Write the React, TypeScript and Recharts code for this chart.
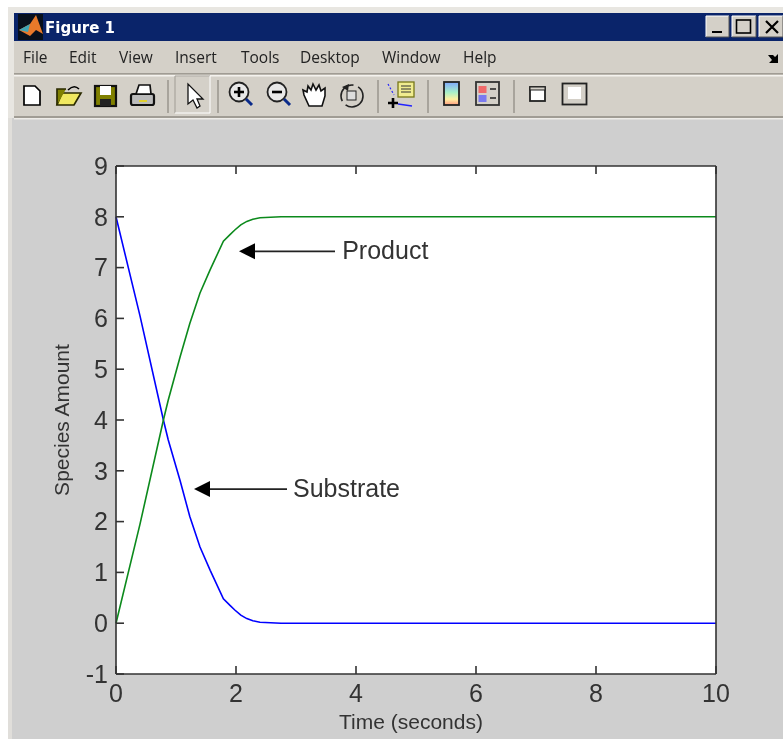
import {
  LineChart,
  Line,
  XAxis,
  YAxis,
  ReferenceLine,
  ReferenceDot,
} from "recharts";

const timeSeconds = [0, 0.4, 0.79, 0.87, 1.07, 1.23, 1.4, 1.57, 1.79, 1.9, 1.98, 2.08, 2.18, 2.28, 2.4, 2.75, 10];
const substrate = [8, 6.05, 4, 3.61, 2.8, 2.1, 1.5, 1.04, 0.48, 0.35, 0.26, 0.16, 0.09, 0.05, 0.02, 0, 0];
const product = [0, 1.95, 4, 4.39, 5.25, 5.9, 6.5, 6.96, 7.52, 7.65, 7.74, 7.84, 7.91, 7.95, 7.98, 8, 8];
const xTicks = [0, 2, 4, 6, 8, 10];
const yTicks = [-1, 0, 1, 2, 3, 4, 5, 6, 7, 8, 9];
const menuItems: [string, number][] = [
  ["File", 23],
  ["Edit", 69],
  ["View", 119],
  ["Insert", 175],
  ["Tools", 241],
  ["Desktop", 300],
  ["Window", 382],
  ["Help", 463],
];

const rows = timeSeconds.map((time, i) => ({
  time,
  substrate: substrate[i],
  product: product[i],
}));

const ink = "#333";
const font = "'Liberation Sans', Arial, sans-serif";
const uiFont = "'Open Sans', 'Noto Sans', sans-serif";

function ArrowHead({ cx, cy }: { cx?: number; cy?: number }) {
  const x = cx ?? 0;
  const y = cy ?? 0;
  return <polygon points={`${x},${y} ${x + 16},${y - 8} ${x + 16},${y + 8}`} fill="#000" />;
}

function Note({ cx, cy, text }: { cx?: number; cy?: number; text: string }) {
  return (
    <text x={cx} y={(cy ?? 0) + 8} fill={ink} fontFamily={font} fontSize={25}>
      {text}
    </text>
  );
}

function WinButton({ x, w, children }: { x: number; w: number; children: React.ReactNode }) {
  return (
    <g>
      <rect x={x} y={16} width={w} height={21} fill="#d4d0c8" />
      <path d={`M${x} 37V16H${x + w}`} stroke="#fff" fill="none" />
      <path d={`M${x} 37H${x + w}V16`} stroke="#555" fill="none" />
      {children}
    </g>
  );
}

function Chrome() {
  return (
    <svg width={783} height={121} style={{ position: "absolute", left: 0, top: 0 }}>
      <defs>
        <linearGradient id="bar" x1="0" y1="0" x2="0" y2="1">
          <stop offset="0" stopColor="#7fa8ff" />
          <stop offset="0.45" stopColor="#a8f0c8" />
          <stop offset="0.75" stopColor="#fff0a0" />
          <stop offset="1" stopColor="#ff9a80" />
        </linearGradient>
      </defs>
      <rect x={8} y={7} width={775} height={111} fill="#e8e6e1" />
      <rect x={14} y={13} width={769} height={105} fill="#d4d0c8" />
      <rect x={14} y={13} width={769} height={28} fill="#0a246a" />
      <rect x={18} y={14} width={25} height={26} fill="#08101c" />
      <path d="M19 30L30 24L36 15L43 34L36 30L30 36Z" fill="#e8792a" />
      <path d="M19 30L30 24L28 32Z" fill="#3fa5b5" />
      <text x={45} y={33} fill="#fff" fontFamily="'DejaVu Sans'" fontWeight="bold" fontSize={15}>Figure 1</text>
      <WinButton x={706} w={23}><rect x={712} y={31} width={10} height={2} fill="#000" /></WinButton>
      <WinButton x={732} w={24}><rect x={736.5} y={20} width={14} height={13} fill="none" stroke="#000" strokeWidth={1.6} /></WinButton>
      <WinButton x={759} w={24}><path d="M766 21L778 33M778 21L766 33" stroke="#000" strokeWidth={2.2} /></WinButton>
      {menuItems.map(([label, x]) => (
        <text key={label} x={x} y={63} fontFamily={uiFont} fontSize={15.5} fill="#222">{label}</text>
      ))}
      <path d="M768 55H773L775 57L778 54V63H769L772 60Z" fill="#000" />
      <rect x={14} y={73} width={769} height={1.5} fill="#a09c94" />
      <rect x={14} y={75} width={769} height={1.5} fill="#f4f2ee" />
      <rect x={14} y={116} width={769} height={2} fill="#a09c94" />
      <rect x={14} y={118} width={769} height={1.5} fill="#eeece8" />
      {[167, 217, 377, 427, 513].map((x) => (
        <rect key={x} x={x} y={80} width={2} height={33} fill="#a8a49c" />
      ))}
      <path d="M24 86H35L40 91V105H24Z" fill="#fff" stroke="#000" strokeWidth={1.7} />
      <path d="M57 105L62 93H81L74 105Z" fill="#f0e860" stroke="#2a2a00" strokeWidth={1.7} />
      <path d="M57 105V89H66" fill="#808000" stroke="#2a2a00" strokeWidth={1.7} />
      <path d="M68 90Q74 84 79 89" fill="none" stroke="#000" strokeWidth={1.5} />
      <rect x={95} y={86} width={21} height={20} fill="#808000" stroke="#111" strokeWidth={2.2} />
      <rect x={100} y={86} width={11} height={9} fill="#fff" />
      <rect x={100} y={99} width={11} height={7} fill="#222" />
      <rect x={131} y={94} width={23} height={11} rx={2} fill="#bbb" stroke="#111" strokeWidth={2.2} />
      <path d="M136 94L139 85H150L151 94Z" fill="#fff" stroke="#111" strokeWidth={1.7} />
      <rect x={139} y={100} width={8} height={2} fill="#e0d030" />
      <path d="M175 113V76H210" stroke="#a09c94" fill="none" />
      <path d="M175 113H210V76" stroke="#fff" fill="none" />
      <path d="M188 84V104L193 100L197 108L200 106L197 99H203Z" fill="#fff" stroke="#111" strokeWidth={1.3} />
      {[239, 277].map((x) => (
        <g key={x}>
          <circle cx={x} cy={92} r={9.5} fill="#e8e8e8" stroke="#222" strokeWidth={1.8} />
          <path d={`M${x + 7} 99L${x + 13} 105`} stroke="#0a2a8a" strokeWidth={3} />
          <path d={`M${x - 5} 92H${x + 5}`} stroke="#000" strokeWidth={2.6} />
        </g>
      ))}
      <path d="M239 87V97" stroke="#000" strokeWidth={2.6} />
      <path d="M309 106L304 95L303 90L307 92L308 86L311 90L313 84L316 90L319 85L321 91L325 88L325 96L322 106Z" fill="#fff" stroke="#111" strokeWidth={1.6} />
      <circle cx={352} cy={96} r={11} fill="none" stroke="#222" strokeWidth={1.6} strokeDasharray="24 5" />
      <rect x={347} y={91} width={9} height={9} fill="#ddd" stroke="#222" />
      <path d="M342 87L349 84L348 91Z" fill="#222" />
      <rect x={398} y={82} width={16} height={15} fill="#f0ec90" stroke="#77771a" strokeWidth={1.3} />
      <path d="M401 86H411M401 89H411M401 92H411" stroke="#333" />
      <path d="M393 98V108M388 103H398" stroke="#000" strokeWidth={2.6} />
      <path d="M388 84L394 95" stroke="#2222ff" strokeWidth={1.2} strokeDasharray="2 2" />
      <path d="M398 104L412 106" stroke="#2222ff" strokeWidth={1.3} />
      <rect x={444} y={82} width={15} height={23} fill="url(#bar)" stroke="#222" strokeWidth={1.8} />
      <rect x={476} y={82} width={23} height={23} fill="#d4d0c8" stroke="#333" strokeWidth={1.8} />
      <rect x={478.5} y={86} width={8} height={7} fill="#f06a6a" />
      <rect x={478.5} y={95} width={8} height={7} fill="#7a7af0" />
      <path d="M490 89H496M490 98H496" stroke="#222" strokeWidth={1.6} />
      <rect x={530} y={87} width={15} height={14} fill="#fff" stroke="#222" strokeWidth={1.8} />
      <rect x={530} y={87} width={15} height={3} fill="#d4d0c8" stroke="#222" strokeWidth={1} />
      <rect x={562.5} y={83.5} width={24} height={21} fill="#d4d0c8" stroke="#222" strokeWidth={1.8} />
      <rect x={568} y={87} width={13} height={12} fill="#fff" />
    </svg>
  );
}

export default function App() {
  return (
    <div style={{ position: "absolute", left: 0, top: 0, width: 783, height: 739, background: "#fff", overflow: "hidden", filter: "blur(0.4px)" }}>
      <div style={{ position: "absolute", left: 12, top: 118, width: 771, height: 621, background: "#cfcfcf" }} />
      <div style={{ position: "absolute", left: 8, top: 118, width: 4, height: 621, background: "#e0deda" }} />
      <Chrome />
      <div style={{ position: "absolute", left: 0, top: 0 }}>
        <LineChart width={783} height={739} data={rows} margin={{ top: 0, right: 0, bottom: 0, left: 0 }}>
          <rect x={116} y={166} width={600} height={508} fill="#fff" />
          <XAxis
            dataKey="time"
            type="number"
            domain={[0, 10]}
            ticks={xTicks}
            height={65}
            stroke={ink}
            strokeWidth={1.6}
            tickSize={-8}
            tickMargin={18}
            tick={{ fill: ink, fontSize: 25, fontFamily: font }}
            label={{ value: "Time (seconds)", position: "insideBottom", offset: 10, dx: -5, fill: ink, fontSize: 21, fontFamily: font }}
          />
          <XAxis
            xAxisId="top"
            orientation="top"
            dataKey="time"
            type="number"
            domain={[0, 10]}
            ticks={xTicks}
            height={166}
            stroke={ink}
            strokeWidth={1.6}
            tickSize={-8}
            tickFormatter={() => ""}
          />
          <YAxis
            type="number"
            domain={[-1, 9]}
            ticks={yTicks}
            width={116}
            stroke={ink}
            strokeWidth={1.6}
            tickSize={-8}
            tickMargin={16}
            tick={{ fill: ink, fontSize: 25, fontFamily: font }}
            label={{ value: "Species Amount", angle: -90, position: "insideLeft", offset: 62, textAnchor: "middle", fill: ink, fontSize: 21, fontFamily: font }}
          />
          <YAxis
            yAxisId="right"
            orientation="right"
            type="number"
            domain={[-1, 9]}
            ticks={yTicks}
            width={67}
            stroke={ink}
            strokeWidth={1.6}
            tickSize={-8}
            tickFormatter={() => ""}
          />
          <Line dataKey="substrate" type="linear" stroke="#0000ff" strokeWidth={1.6} dot={false} isAnimationActive={false} />
          <Line dataKey="product" type="linear" stroke="#0c8a1c" strokeWidth={1.6} dot={false} isAnimationActive={false} />
          <ReferenceLine segment={[{ x: 2.3, y: 7.32 }, { x: 3.65, y: 7.32 }]} stroke="#222" strokeWidth={1.6} />
          <ReferenceDot x={2.05} y={7.32} r={1} shape={(p: any) => <ArrowHead cx={p.cx} cy={p.cy} />} />
          <ReferenceDot x={3.77} y={7.32} r={1} shape={(p: any) => <Note cx={p.cx} cy={p.cy} text="Product" />} />
          <ReferenceLine segment={[{ x: 1.55, y: 2.64 }, { x: 2.85, y: 2.64 }]} stroke="#222" strokeWidth={1.6} />
          <ReferenceDot x={1.3} y={2.64} r={1} shape={(p: any) => <ArrowHead cx={p.cx} cy={p.cy} />} />
          <ReferenceDot x={2.95} y={2.64} r={1} shape={(p: any) => <Note cx={p.cx} cy={p.cy} text="Substrate" />} />
        </LineChart>
      </div>
    </div>
  );
}
